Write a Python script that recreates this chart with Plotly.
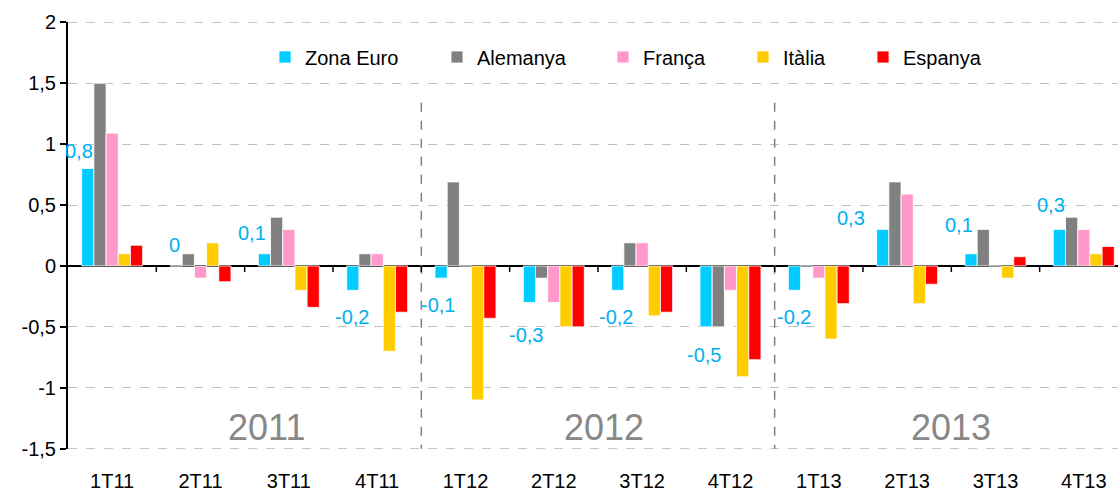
import plotly.graph_objects as go

categories = ["1T11", "2T11", "3T11", "4T11", "1T12", "2T12", "3T12", "4T12", "1T13", "2T13", "3T13", "4T13"]
zona_euro = [0.8, 0.0, 0.1, -0.2, -0.1, -0.3, -0.2, -0.5, -0.2, 0.3, 0.1, 0.3]
alemanya = [1.5, 0.1, 0.4, 0.1, 0.69, -0.1, 0.19, -0.5, 0.0, 0.69, 0.3, 0.4]
franca = [1.09, -0.1, 0.3, 0.1, 0.0, -0.3, 0.19, -0.2, -0.1, 0.59, 0.0, 0.3]
italia = [0.1, 0.19, -0.2, -0.7, -1.1, -0.5, -0.41, -0.91, -0.6, -0.31, -0.1, 0.1]
espanya = [0.17, -0.13, -0.34, -0.38, -0.43, -0.5, -0.38, -0.77, -0.31, -0.15, 0.076, 0.16]
series_names = ["Zona Euro", "Alemanya", "França", "Itàlia", "Espanya"]
years = ["2011", "2012", "2013"]
year_pos = [1.75, 5.57, 9.5]
separators = [3.5, 7.5]
y_ticks = [-1.5, -1, -0.5, 0, 0.5, 1, 1.5, 2]
y_tick_text = ["-1,5", "-1", "-0,5", "0", "0,5", "1", "1,5", "2"]

colors = ["#00CCFF", "#808080", "#FF99CC", "#FFCC00", "#FF0000"]
label_color = "#00B0F0"
grid_color = "#BFBFBF"
FONT = "Liberation Sans, Arial, sans-serif"

# layout geometry
L, R, T, B = 68, 0, 22, 47
W, H = 1118, 496
x_range = [-0.5, 11.387]
y_range = [-1.503, 2.003]
bargap = 0.31
plot_w = W - L - R
cat_px = plot_w / (x_range[1] - x_range[0])
bar_px = cat_px * (1 - bargap) / 5
cyan_off = -2 * bar_px

# label nudges (px): right edge relative to cyan bar centre, vertical offset from bar end
label_dx = [7, 6, 4, 18, 16, 16, 17, 17, 18.5, -16, 4, 7.5]
label_dy = [18, 21, 21, -27, -27, -33, -27, -28, -27, 11, 29, 24]

fig = go.Figure()
all_series = [zona_euro, alemanya, franca, italia, espanya]
legend_text_px = [305, 477, 643, 783, 903]
for i, (name, vals, col) in enumerate(zip(series_names, all_series, colors)):
    lg = "legend" if i == 0 else f"legend{i+1}"
    fig.add_trace(go.Bar(
        x=categories, y=vals, name=name,
        marker=dict(color=col, line=dict(color="rgba(255,255,255,0.8)", width=1)),
        legend=lg, hoverinfo="skip",
    ))

def fmt(v):
    return ("%g" % v).replace(".", ",")

annotations = []
for i, (c, v) in enumerate(zip(categories, zona_euro)):
    annotations.append(dict(
        x=c, y=v, xref="x", yref="y", text=fmt(v), showarrow=False,
        xanchor="right", yanchor="middle",
        xshift=cyan_off + label_dx[i], yshift=label_dy[i],
        font=dict(family=FONT, size=20, color=label_color),
    ))
for yr, xp in zip(years, year_pos):
    annotations.append(dict(
        x=xp, y=-1.33, xref="x", yref="y", text=yr, showarrow=False,
        xanchor="center", yanchor="middle",
        font=dict(family=FONT, size=36, color="#888888"),
    ))

shapes = []
# edge gridlines (plotly hides gridlines at the plot boundary)
for yv in (y_ticks[0], y_ticks[-1]):
    shapes.append(dict(type="line", xref="paper", yref="y", x0=0, x1=1, y0=yv, y1=yv,
                       layer="below", line=dict(color=grid_color, width=1, dash="dash")))
for s in separators:
    shapes.append(dict(type="line", xref="x", yref="y", x0=s, x1=s, y0=1.34, y1=-1.5,
                       line=dict(color="#7F7F7F", width=1.5, dash="dash")))
for k in range(len(categories) - 1):
    shapes.append(dict(type="line", xref="x", yref="y", x0=k + 0.5, x1=k + 0.5,
                       ysizemode="pixel", yanchor=0, y0=0, y1=-6,
                       line=dict(color="black", width=1.5)))

layout_legends = {}
for i in range(5):
    key = "legend" if i == 0 else f"legend{i+1}"
    layout_legends[key] = dict(
        x=(legend_text_px[i] - 40 - L) / plot_w, xanchor="left",
        y=(H - B - 57) / (H - B - T), yanchor="middle",
        orientation="h", bgcolor="rgba(0,0,0,0)", borderwidth=0,
        font=dict(family=FONT, size=20, color="black"),
    )

fig.update_layout(
    width=W, height=H,
    margin=dict(l=L, r=R, t=T, b=B, pad=0, autoexpand=False),
    paper_bgcolor="white", plot_bgcolor="white",
    barmode="group", bargap=bargap, bargroupgap=0,
    separators=",.",
    showlegend=True,
    annotations=annotations, shapes=shapes,
    font=dict(family=FONT, size=20, color="black"),
    xaxis=dict(
        type="category", range=x_range, showgrid=False, zeroline=False,
        showline=False, ticks="", tickfont=dict(family=FONT, size=20, color="black"),
        ticklabelstandoff=18, automargin=False,
    ),
    yaxis=dict(
        range=y_range, tickvals=y_ticks, ticktext=y_tick_text,
        showgrid=True, gridcolor=grid_color, gridwidth=1, griddash="dash",
        zeroline=True, zerolinecolor="black", zerolinewidth=2,
        showline=True, linecolor="black", linewidth=2,
        ticks="outside", ticklen=6, tickcolor="black", tickwidth=1.5,
        tickfont=dict(family=FONT, size=20, color="black"), automargin=False,
    ),
    **layout_legends,
)

fig.write_html("out.html", config={"displayModeBar": False},
               post_script="document.body.style.margin='0';document.body.style.overflow='hidden';")
